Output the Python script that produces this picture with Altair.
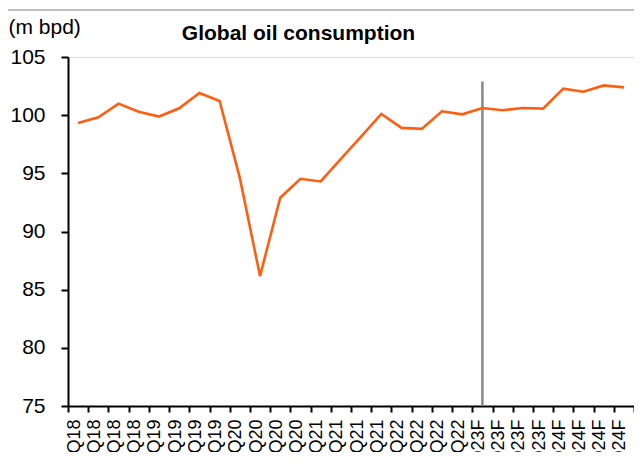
import altair as alt
import pandas as pd

quarters = ["1Q18", "2Q18", "3Q18", "4Q18", "1Q19", "2Q19", "3Q19", "4Q19",
            "1Q20", "2Q20", "3Q20", "4Q20", "1Q21", "2Q21", "3Q21", "4Q21",
            "1Q22", "2Q22", "3Q22", "4Q22", "1Q23F", "2Q23F", "3Q23F", "4Q23F",
            "1Q24F", "2Q24F", "3Q24F", "4Q24F"]
consumption = [99.33, 99.82, 100.99, 100.30, 99.88, 100.59, 101.91, 101.22,
               94.61, 86.17, 92.90, 94.53, 94.30, 96.24, 98.16, 100.10,
               98.91, 98.82, 100.33, 100.07, 100.62, 100.42, 100.62, 100.56,
               102.28, 102.02, 102.56, 102.39]
y_ticks = [75, 80, 85, 90, 95, 100, 105]
divider_quarter = ["1Q23F"]
divider_low = [75]
divider_high = [102.9]
title_text = ["Global oil consumption"]

FONT = "Liberation Sans"

df = pd.DataFrame({"quarter": quarters, "value": consumption})
div_df = pd.DataFrame({"quarter": divider_quarter, "lo": divider_low, "hi": divider_high})
title_df = pd.DataFrame({"label": title_text})

x_enc = alt.X(
    "quarter:N", sort=quarters, bandPosition=0.5,
    scale=alt.Scale(type="band", paddingInner=0, paddingOuter=0),
    axis=alt.Axis(
        title=None, labelAngle=-90, labelAlign="right", labelBaseline="middle",
        labelFontSize=18, labelFont=FONT, labelColor="black", labelPadding=7,
        labelOffset=-4, labelOverlap=False, tickBand="extent",
        tickSize=6, tickColor="black", tickWidth=2,
        domainColor="black", domainWidth=2, grid=False,
    ),
)

line = alt.Chart(df).mark_line(color="#FF5E10", strokeWidth=2.6).encode(
    x=x_enc,
    y=alt.Y(
        "value:Q",
        scale=alt.Scale(domain=[75, 105], nice=False, zero=False),
        axis=alt.Axis(
            values=y_ticks, grid=False, tickSize=7, tickColor="black", tickWidth=2,
            domainColor="black", domainWidth=2, labelFontSize=21, labelFont=FONT,
            labelColor="black", labelPadding=16,
            title="(m bpd)", titleAngle=0, titleX=-60, titleY=-24,
            titleAlign="left", titleBaseline="alphabetic", titleFontSize=21,
            titleFont=FONT, titleFontWeight="normal", titleColor="black",
        ),
    ),
)

divider = alt.Chart(div_df).mark_rule(color="#8c8c8c", strokeWidth=2.6).encode(
    x=alt.X("quarter:N", sort=quarters, bandPosition=0.5),
    y="lo:Q",
    y2="hi:Q",
)

title = alt.Chart(title_df).mark_text(
    fontSize=21, font=FONT, fontWeight="bold", color="black",
    align="center", baseline="alphabetic",
).encode(text="label:N", x=alt.value(230.5), y=alt.value(-17))

top_border = alt.Chart(alt.Data(values=[{}])).mark_rule(
    color="#c0c0c0", strokeWidth=2
).encode(x=alt.value(-60), x2=alt.value(600), y=alt.value(-47))

chart = alt.layer(top_border, divider, line, title).properties(
    width=566,
    height=349,
    autosize=alt.AutoSizeParams(type="none"),
    padding={"left": 60, "top": 49, "right": 0, "bottom": 46},
).configure_view(stroke=None).configure(background="white")

chart.save("out.html", embed_options={"renderer": "svg", "actions": False})
